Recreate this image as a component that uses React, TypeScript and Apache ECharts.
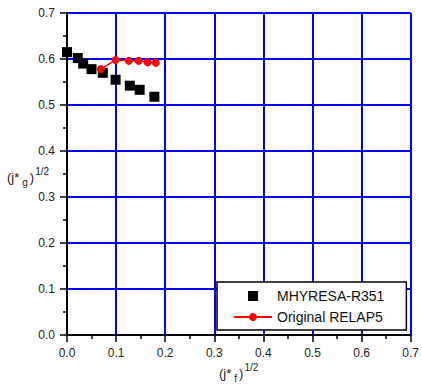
import React, { useEffect, useRef } from "react";
import * as echarts from "echarts";

const seriesNames = ["MHYRESA-R351", "Original RELAP5"];
const mhyresaX = [0.0, 0.022, 0.033, 0.05, 0.073, 0.099, 0.128, 0.148, 0.178];
const mhyresaY = [0.615, 0.602, 0.59, 0.578, 0.57, 0.555, 0.542, 0.533, 0.518];
const relapX = [0.069, 0.099, 0.126, 0.146, 0.164, 0.181];
const relapY = [0.578, 0.598, 0.596, 0.596, 0.593, 0.592];
const xTicks = [0, 0.1, 0.2, 0.3, 0.4, 0.5, 0.6, 0.7];
const yTicks = [0, 0.1, 0.2, 0.3, 0.4, 0.5, 0.6, 0.7];

const FONT = "Liberation Sans";

export default function App() {
  const ref = useRef<HTMLDivElement>(null);
  useEffect(() => {
    if (!ref.current) return;
    const chart = echarts.init(ref.current, null, { renderer: "svg" });
    const axisCommon = (ticks: number[]) => ({
      type: "value" as const,
      min: ticks[0],
      max: ticks[ticks.length - 1],
      interval: 0.1,
      axisLine: { show: true, onZero: false, lineStyle: { color: "#000", width: 2 } },
      axisTick: { show: true, inside: false, length: 7, lineStyle: { color: "#000", width: 1.5 } },
      minorTick: { show: true, splitNumber: 2, length: 4, lineStyle: { color: "#000", width: 1.5 } },
      splitLine: { show: true, lineStyle: { color: "#0000ff", width: 2 } },
      axisLabel: {
        color: "#222",
        fontFamily: FONT,
        fontSize: 12,
        margin: 12,
        formatter: (v: number) => v.toFixed(1),
      },
    });
    chart.setOption({
      animation: false,
      textStyle: { fontFamily: FONT },
      grid: { left: 67, right: 11, top: 13, bottom: 54 },
      xAxis: [
        axisCommon(xTicks),
        {
          type: "value",
          position: "top",
          min: 0,
          max: 0.7,
          interval: 0.1,
          axisLine: { show: true, lineStyle: { color: "#000", width: 2 } },
          axisTick: { show: false },
          axisLabel: { show: false },
          splitLine: { show: false },
        },
      ],
      yAxis: [
        axisCommon(yTicks),
        {
          type: "value",
          position: "right",
          min: 0,
          max: 0.7,
          interval: 0.1,
          axisLine: { show: true, lineStyle: { color: "#000", width: 2 } },
          axisTick: { show: false },
          axisLabel: { show: false },
          splitLine: { show: false },
        },
      ],
      legend: {
        orient: "vertical",
        left: 217,
        top: 282,
        width: 170,
        padding: [7, 22, 6, 16],
        itemGap: 7,
        itemWidth: 38,
        itemHeight: 10,
        borderColor: "#000",
        borderWidth: 1.5,
        backgroundColor: "#fff",
        textStyle: { fontFamily: FONT, fontSize: 14, color: "#111" },
        data: [
          { name: seriesNames[0], icon: "path://M0,5L0.01,5M14,0h10v10h-10zM37.99,5L38,5" },
          { name: seriesNames[1] },
        ],
      },
      series: [
        {
          name: seriesNames[0],
          type: "scatter",
          symbol: "rect",
          symbolSize: 10,
          clip: false,
          itemStyle: { color: "#000", opacity: 1 },
          data: mhyresaX.map((x, i) => [x, mhyresaY[i]]),
          z: 5,
        },
        {
          name: seriesNames[1],
          type: "line",
          symbol: "circle",
          symbolSize: 8,
          showSymbol: true,
          clip: false,
          lineStyle: { color: "#ff0000", width: 1.5 },
          itemStyle: { color: "#ff0000" },
          data: relapX.map((x, i) => [x, relapY[i]]),
          z: 6,
        },
      ],
      graphic: [
        {
          type: "text",
          left: 7,
          top: 166,
          style: {
            text: "(j*{sub|g}){sup|1/2}",
            fontFamily: FONT,
            fontSize: 13,
            fill: "#222",
            rich: {
              sub: { fontSize: 10, fontFamily: FONT, fill: "#222", padding: [10, 2, 0, 3] },
              sup: { fontSize: 10, fontFamily: FONT, fill: "#222", padding: [0, 0, 12, 1] },
            },
          },
        },
        {
          type: "text",
          left: 219,
          top: 362,
          style: {
            text: "(j*{sub|f}){sup|1/2}",
            fontFamily: FONT,
            fontSize: 13,
            fill: "#222",
            rich: {
              sub: { fontSize: 10, fontFamily: FONT, fill: "#222", padding: [10, 2, 0, 3] },
              sup: { fontSize: 10, fontFamily: FONT, fill: "#222", padding: [0, 0, 12, 1] },
            },
          },
        },
      ],
    });
    return () => chart.dispose();
  }, []);
  return <div ref={ref} style={{ width: 422, height: 389, position: "absolute", left: 0, top: 0 }} />;
}
